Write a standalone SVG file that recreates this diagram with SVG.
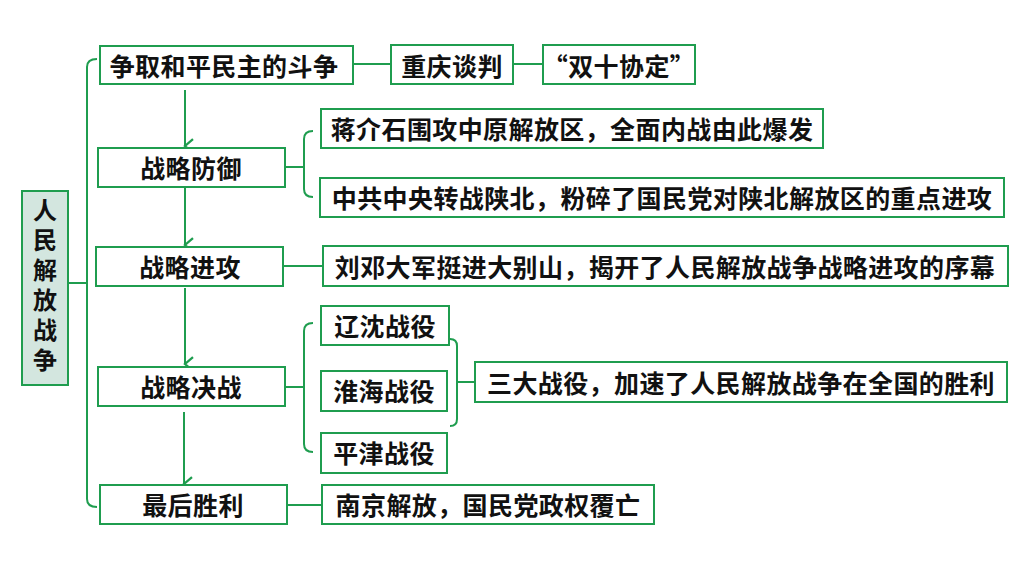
<svg xmlns="http://www.w3.org/2000/svg" width="1024" height="576" viewBox="0 0 1024 576">
<style>
.box{fill:#ffffff;stroke:#1f9d4f;stroke-width:2}
.root{fill:#d3e6df;stroke:#1f9d4f;stroke-width:2}
.ln{fill:none;stroke:#1f9d4f;stroke-width:2}
.t{font-family:"Noto Sans CJK SC","Noto Sans",sans-serif;font-size:25px;font-weight:bold;letter-spacing:0.4px;fill:#111111;text-anchor:middle;dominant-baseline:central}
.v{font-family:"Noto Sans CJK SC","Noto Sans",sans-serif;font-size:24px;font-weight:bold;fill:#111111;writing-mode:vertical-rl;text-orientation:upright;letter-spacing:6px}
</style>
<defs>
<marker id="ah" markerUnits="userSpaceOnUse" markerWidth="16" markerHeight="16" refX="7" refY="10" orient="auto-start-reverse" viewBox="0 0 14 12">
<path d="M1,3 L7,10 L13,3" fill="none" stroke="#1f9d4f" stroke-width="2"/>
</marker>
</defs>
<rect width="1024" height="576" fill="#ffffff"/>
<g id="connectors">
<path class="ln" d="M68,283 L87,283"/>
<path class="ln" d="M97,59 Q87,59 87,67 L87,499 Q87,507 97,507"/>
<path class="ln" d="M353,64 L391,64"/>
<path class="ln" d="M513,64 L543,64"/>
<path class="ln" d="M185,90 L185,146" marker-end="url(#ah)"/>
<path class="ln" d="M185,188 L185,245" marker-end="url(#ah)"/>
<path class="ln" d="M185,288 L185,364" marker-end="url(#ah)"/>
<path class="ln" d="M184,412 L184,484" marker-end="url(#ah)"/>
<path class="ln" d="M285,167 L304,167"/>
<path class="ln" d="M313,131 Q304,131 304,139 L304,189 Q304,197 313,197"/>
<path class="ln" d="M283,266 L323,266"/>
<path class="ln" d="M285,387 L304,387"/>
<path class="ln" d="M313,323 Q304,323 304,331 L304,444 Q304,452 313,452"/>
<path class="ln" d="M450,339 Q457,339 457,346 L457,419 Q457,426 450,426"/>
<path class="ln" d="M457,382 L475,382"/>
<path class="ln" d="M287,505 L322,505"/>
</g>
<g id="root">
<rect class="root" x="22" y="191" width="46" height="194"/>
<text class="v" x="45" y="198">人民解放战争</text>
</g>
<g id="n-peace"><rect class="box" x="100" y="46" width="253" height="38"/><text class="t" x="224" y="65">争取和平民主的斗争</text></g>
<g id="n-chongqing"><rect class="box" x="391" y="45" width="122" height="39"/><text class="t" x="452" y="65">重庆谈判</text></g>
<g id="n-shuangshi"><rect class="box" x="543" y="45" width="152" height="39"/><text class="t" x="619" y="65">“双十协定”</text></g>
<g id="n-defense"><rect class="box" x="98" y="148" width="187" height="39"/><text class="t" x="191" y="167">战略防御</text></g>
<g id="n-jiang"><rect class="box" x="321" y="109" width="502" height="39"/><text class="t" x="572" y="128">蒋介石围攻中原解放区，全面内战由此爆发</text></g>
<g id="n-shaanbei"><rect class="box" x="320" y="178" width="684" height="39"/><text class="t" x="662" y="197">中共中央转战陕北，粉碎了国民党对陕北解放区的重点进攻</text></g>
<g id="n-offense"><rect class="box" x="96" y="247" width="187" height="39"/><text class="t" x="190" y="266">战略进攻</text></g>
<g id="n-liudeng"><rect class="box" x="323" y="246" width="685" height="40"/><text class="t" x="665" y="266">刘邓大军挺进大别山，揭开了人民解放战争战略进攻的序幕</text></g>
<g id="n-decisive"><rect class="box" x="98" y="367" width="187" height="39"/><text class="t" x="191" y="386">战略决战</text></g>
<g id="n-liaoshen"><rect class="box" x="321" y="306" width="128" height="39"/><text class="t" x="385" y="325">辽沈战役</text></g>
<g id="n-huaihai"><rect class="box" x="321" y="371" width="126" height="40"/><text class="t" x="384" y="390">淮海战役</text></g>
<g id="n-pingjin"><rect class="box" x="321" y="433" width="126" height="40"/><text class="t" x="384" y="452">平津战役</text></g>
<g id="n-three"><rect class="box" x="475" y="362" width="532" height="40"/><text class="t" x="741" y="382">三大战役，加速了人民解放战争在全国的胜利</text></g>
<g id="n-victory"><rect class="box" x="100" y="485" width="187" height="39"/><text class="t" x="193" y="504">最后胜利</text></g>
<g id="n-nanjing"><rect class="box" x="322" y="485" width="332" height="39"/><text class="t" x="488" y="504">南京解放，国民党政权覆亡</text></g>
</svg>
